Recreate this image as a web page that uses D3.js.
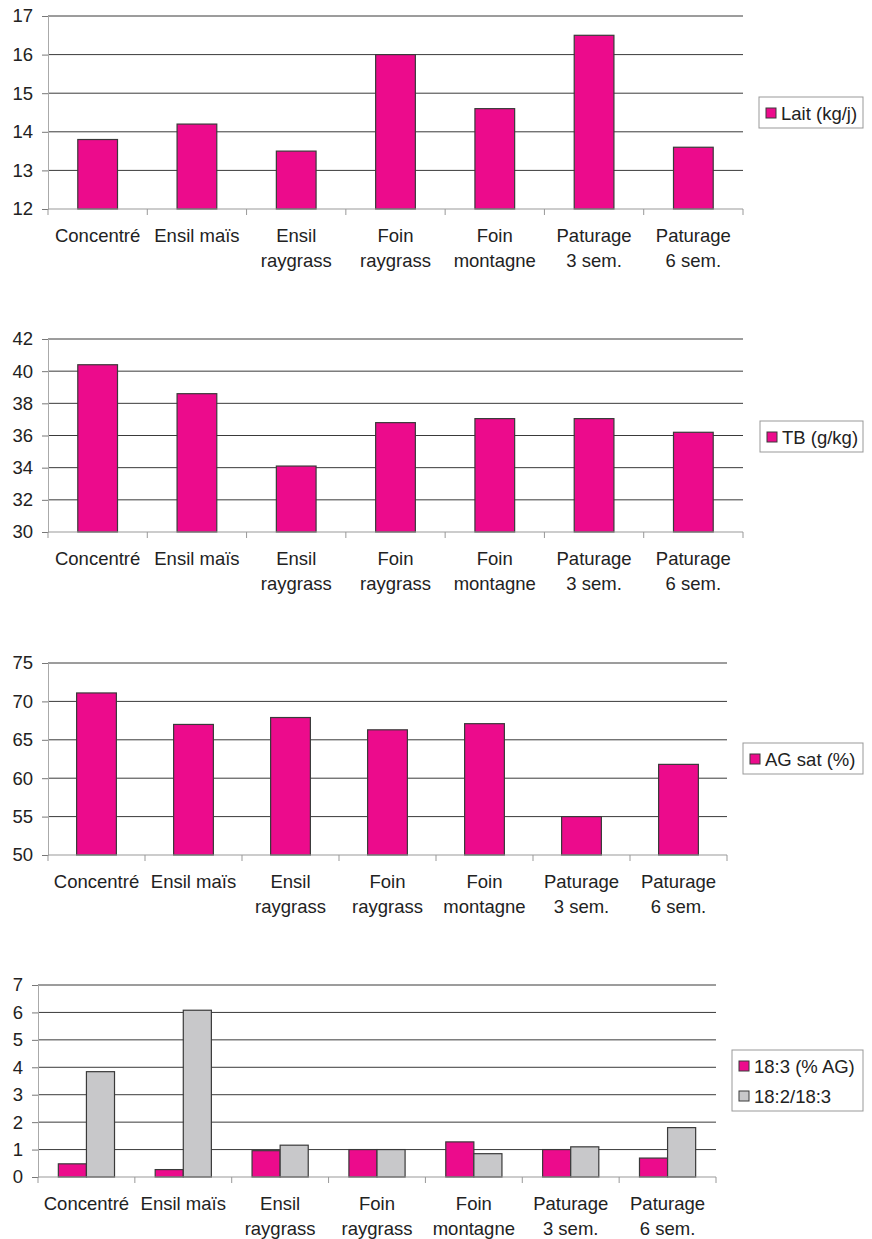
<!DOCTYPE html>
<html>
<head>
<meta charset="utf-8">
<script src="https://cdn.jsdelivr.net/npm/d3@7"></script>
<style>
  body { margin: 0; background: #fff; }
  svg text { font-family: "Liberation Sans", Arial, sans-serif; fill: #222; }
</style>
</head>
<body>
<svg id="chart"></svg>
<script>
// Feeding regimes (x categories)
const categories = ["Concentré", "Ensil maïs", "Ensil\nraygrass", "Foin\nraygrass",
    "Foin\nmontagne", "Paturage\n3 sem.", "Paturage\n6 sem."];

// Series values
const lait = [13.8, 14.2, 13.5, 16.0, 14.6, 16.5, 13.6];
const tb = [40.4, 38.6, 34.1, 36.8, 37.05, 37.05, 36.2];
const agSat = [71.1, 67.0, 67.9, 66.3, 67.1, 55.0, 61.8];
const c183 = [0.48, 0.27, 0.96, 1.0, 1.28, 1.0, 0.69];
const ratio182 = [3.84, 6.08, 1.16, 1.0, 0.85, 1.1, 1.8];

// y axis ranges and tick values
const laitTicks = [12, 13, 14, 15, 16, 17];
const tbTicks = [30, 32, 34, 36, 38, 40, 42];
const agTicks = [50, 55, 60, 65, 70, 75];
const fattyTicks = [0, 1, 2, 3, 4, 5, 6, 7];

const pink = "#ec0b8c";
const grey = "#c8c8ca";

const W = 872, H = 1239;
const svg = d3.select("#chart").attr("width", W).attr("height", H);

// one panel per chart: plot box + legend box
const panels = [
    { series: [{ name: "Lait (kg/j)", values: lait, color: pink }], ticks: laitTicks,
      left: 48, right: 743, top: 16, bottom: 209, pad: 0.6, leg: [759, 97, 104] },
    { series: [{ name: "TB (g/kg)", values: tb, color: pink }], ticks: tbTicks,
      left: 48, right: 743, top: 339, bottom: 532, pad: 0.6, leg: [760, 421, 103] },
    { series: [{ name: "AG sat (%)", values: agSat, color: pink }], ticks: agTicks,
      left: 48, right: 727, top: 663, bottom: 855, pad: 0.59, leg: [743, 743, 120] },
    { series: [{ name: "18:3 (% AG)", values: c183, color: pink },
               { name: "18:2/18:3", values: ratio182, color: grey }], ticks: fattyTicks,
      left: 38, right: 716, top: 985, bottom: 1177, pad: 0.42, leg: [732, 1050, 131] }
];

panels.forEach(function(p) {
    const g = svg.append("g");

    const x = d3.scaleBand()
        .domain(d3.range(categories.length))
        .range([p.left, p.right])
        .paddingInner(p.pad)
        .paddingOuter(p.pad / 2);
    // band edges for the axis ticks
    const step = (p.right - p.left) / categories.length;

    const y = d3.scaleLinear()
        .domain(d3.extent(p.ticks))
        .range([p.bottom, p.top]);

    // gridlines
    g.selectAll(".grid")
        .data(p.ticks.slice(1))
        .enter().append("line")
        .attr("x1", p.left).attr("x2", p.right)
        .attr("y1", d => y(d)).attr("y2", d => y(d))
        .attr("stroke", "#3a3a3a").attr("stroke-width", 1);

    // left axis
    const yAxis = d3.axisLeft(y).tickValues(p.ticks).tickFormat(d3.format("d"))
        .tickSize(6).tickPadding(9);
    const ya = g.append("g").attr("transform", `translate(${p.left},0)`).call(yAxis);
    ya.select(".domain").attr("stroke", "#aaa");
    ya.selectAll(".tick line").attr("stroke", "#777");
    ya.selectAll(".tick text").attr("font-size", 18.5)
        .style("font-family", "Liberation Sans, Arial, sans-serif").attr("fill", "#222");

    // bars
    const inner = d3.scaleBand()
        .domain(d3.range(p.series.length))
        .range([0, x.bandwidth()]);
    p.series.forEach(function(s, si) {
        g.selectAll(".bar" + si)
            .data(s.values)
            .enter().append("rect")
            .attr("x", (d, i) => x(i) + inner(si))
            .attr("width", inner.bandwidth())
            .attr("y", d => y(d))
            .attr("height", d => y(p.ticks[0]) - y(d))
            .attr("fill", s.color)
            .attr("stroke", "#3a3a3a")
            .attr("stroke-width", 1.2);
    });

    // bottom axis line and category ticks
    g.append("line")
        .attr("x1", p.left).attr("x2", p.right)
        .attr("y1", p.bottom).attr("y2", p.bottom)
        .attr("stroke", "#999");
    g.selectAll(".xtick")
        .data(d3.range(categories.length + 1))
        .enter().append("line")
        .attr("x1", i => p.left + i * step).attr("x2", i => p.left + i * step)
        .attr("y1", p.bottom).attr("y2", p.bottom + 6)
        .attr("stroke", "#999");

    // category labels
    g.selectAll(".xlab")
        .data(categories)
        .enter().append("text")
        .attr("text-anchor", "middle")
        .attr("font-size", 18.5)
        .each(function(d, i) {
            const t = d3.select(this);
            d.split("\n").forEach(function(line, li) {
                t.append("tspan")
                    .attr("x", p.left + (i + 0.5) * step)
                    .attr("y", p.bottom + 33 + li * 25)
                    .text(line);
            });
        });

    // legend
    const [lx, ly, lw] = p.leg;
    const lh = 31 + (p.series.length - 1) * 30;
    g.append("rect")
        .attr("x", lx).attr("y", ly).attr("width", lw).attr("height", lh)
        .attr("fill", "#fff").attr("stroke", "#999");
    p.series.forEach(function(s, si) {
        const cy = ly + 16 + si * 30;
        g.append("rect")
            .attr("x", lx + 7).attr("y", cy - 5)
            .attr("width", 10).attr("height", 10)
            .attr("fill", s.color).attr("stroke", "#3a3a3a");
        g.append("text")
            .attr("x", lx + 22).attr("y", cy + 6.5)
            .attr("font-size", 18.5)
            .text(s.name);
    });
});
</script>
</body>
</html>
